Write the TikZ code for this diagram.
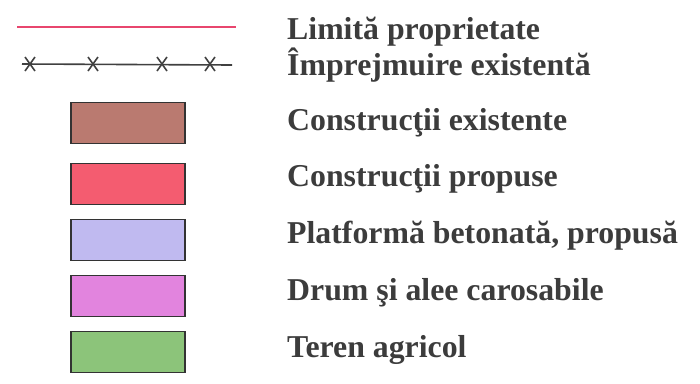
\documentclass[tikz,border=0pt]{standalone}
\usepackage{fontspec}
\setmainfont{Liberation Serif}
\definecolor{txt}{RGB}{60,60,60}
\definecolor{limred}{RGB}{232,70,110}
\definecolor{cexist}{RGB}{186,122,112}
\definecolor{cprop}{RGB}{244,92,112}
\definecolor{platf}{RGB}{192,186,240}
\definecolor{drum}{RGB}{226,132,222}
\definecolor{agric}{RGB}{140,196,122}
\begin{document}
\begin{tikzpicture}[x=1pt,y=-1pt,
  lbl/.style={anchor=base west,inner sep=0pt,text=txt,font=\fontsize{31.8}{34}\selectfont\bfseries},
  swatch/.style={draw=black!80,line width=1.2pt,minimum width=114pt,minimum height=41pt,inner sep=0pt},
  fence/.style={draw=black!75,line width=1.6pt},
  crossmark/.style={draw=black!75,line width=1.6pt}]
\useasboundingbox (0,0) rectangle (700,383);
% lines
\coordinate (l1a) at (17,27);
\coordinate (l1b) at (236,27);
\draw[limred,line width=1.5pt] (l1a) -- (l1b);
\coordinate (f1) at (22,64);
\coordinate (f2) at (232,65);
\draw[fence] (f1) -- (f2);
\foreach \x in {30,93,162,210}{
  \draw[crossmark] (\x-5,57) -- (\x+5,71) (\x+5,57) -- (\x-5,71);
}
% swatches
\node[swatch,fill=cexist] (s1) at (128,123) {};
\node[swatch,fill=cprop] (s2) at (128,184) {};
\node[swatch,fill=platf] (s3) at (128,240) {};
\node[swatch,fill=drum] (s4) at (128,296) {};
\node[swatch,fill=agric] (s5) at (128,352) {};
% labels
\node[lbl] (t1) at (287,39) {Limită proprietate};
\node[lbl] (t2) at (287,75) {Împrejmuire existentă};
\node[lbl] (t3) at (287,130) {Construcţii existente};
\node[lbl] (t4) at (287,186) {Construcţii propuse};
\node[lbl] (t5) at (287,243) {Platformă betonată, propusă};
\node[lbl] (t6) at (287,300) {Drum şi alee carosabile};
\node[lbl] (t7) at (287,357) {Teren agricol};
\end{tikzpicture}
\end{document}
